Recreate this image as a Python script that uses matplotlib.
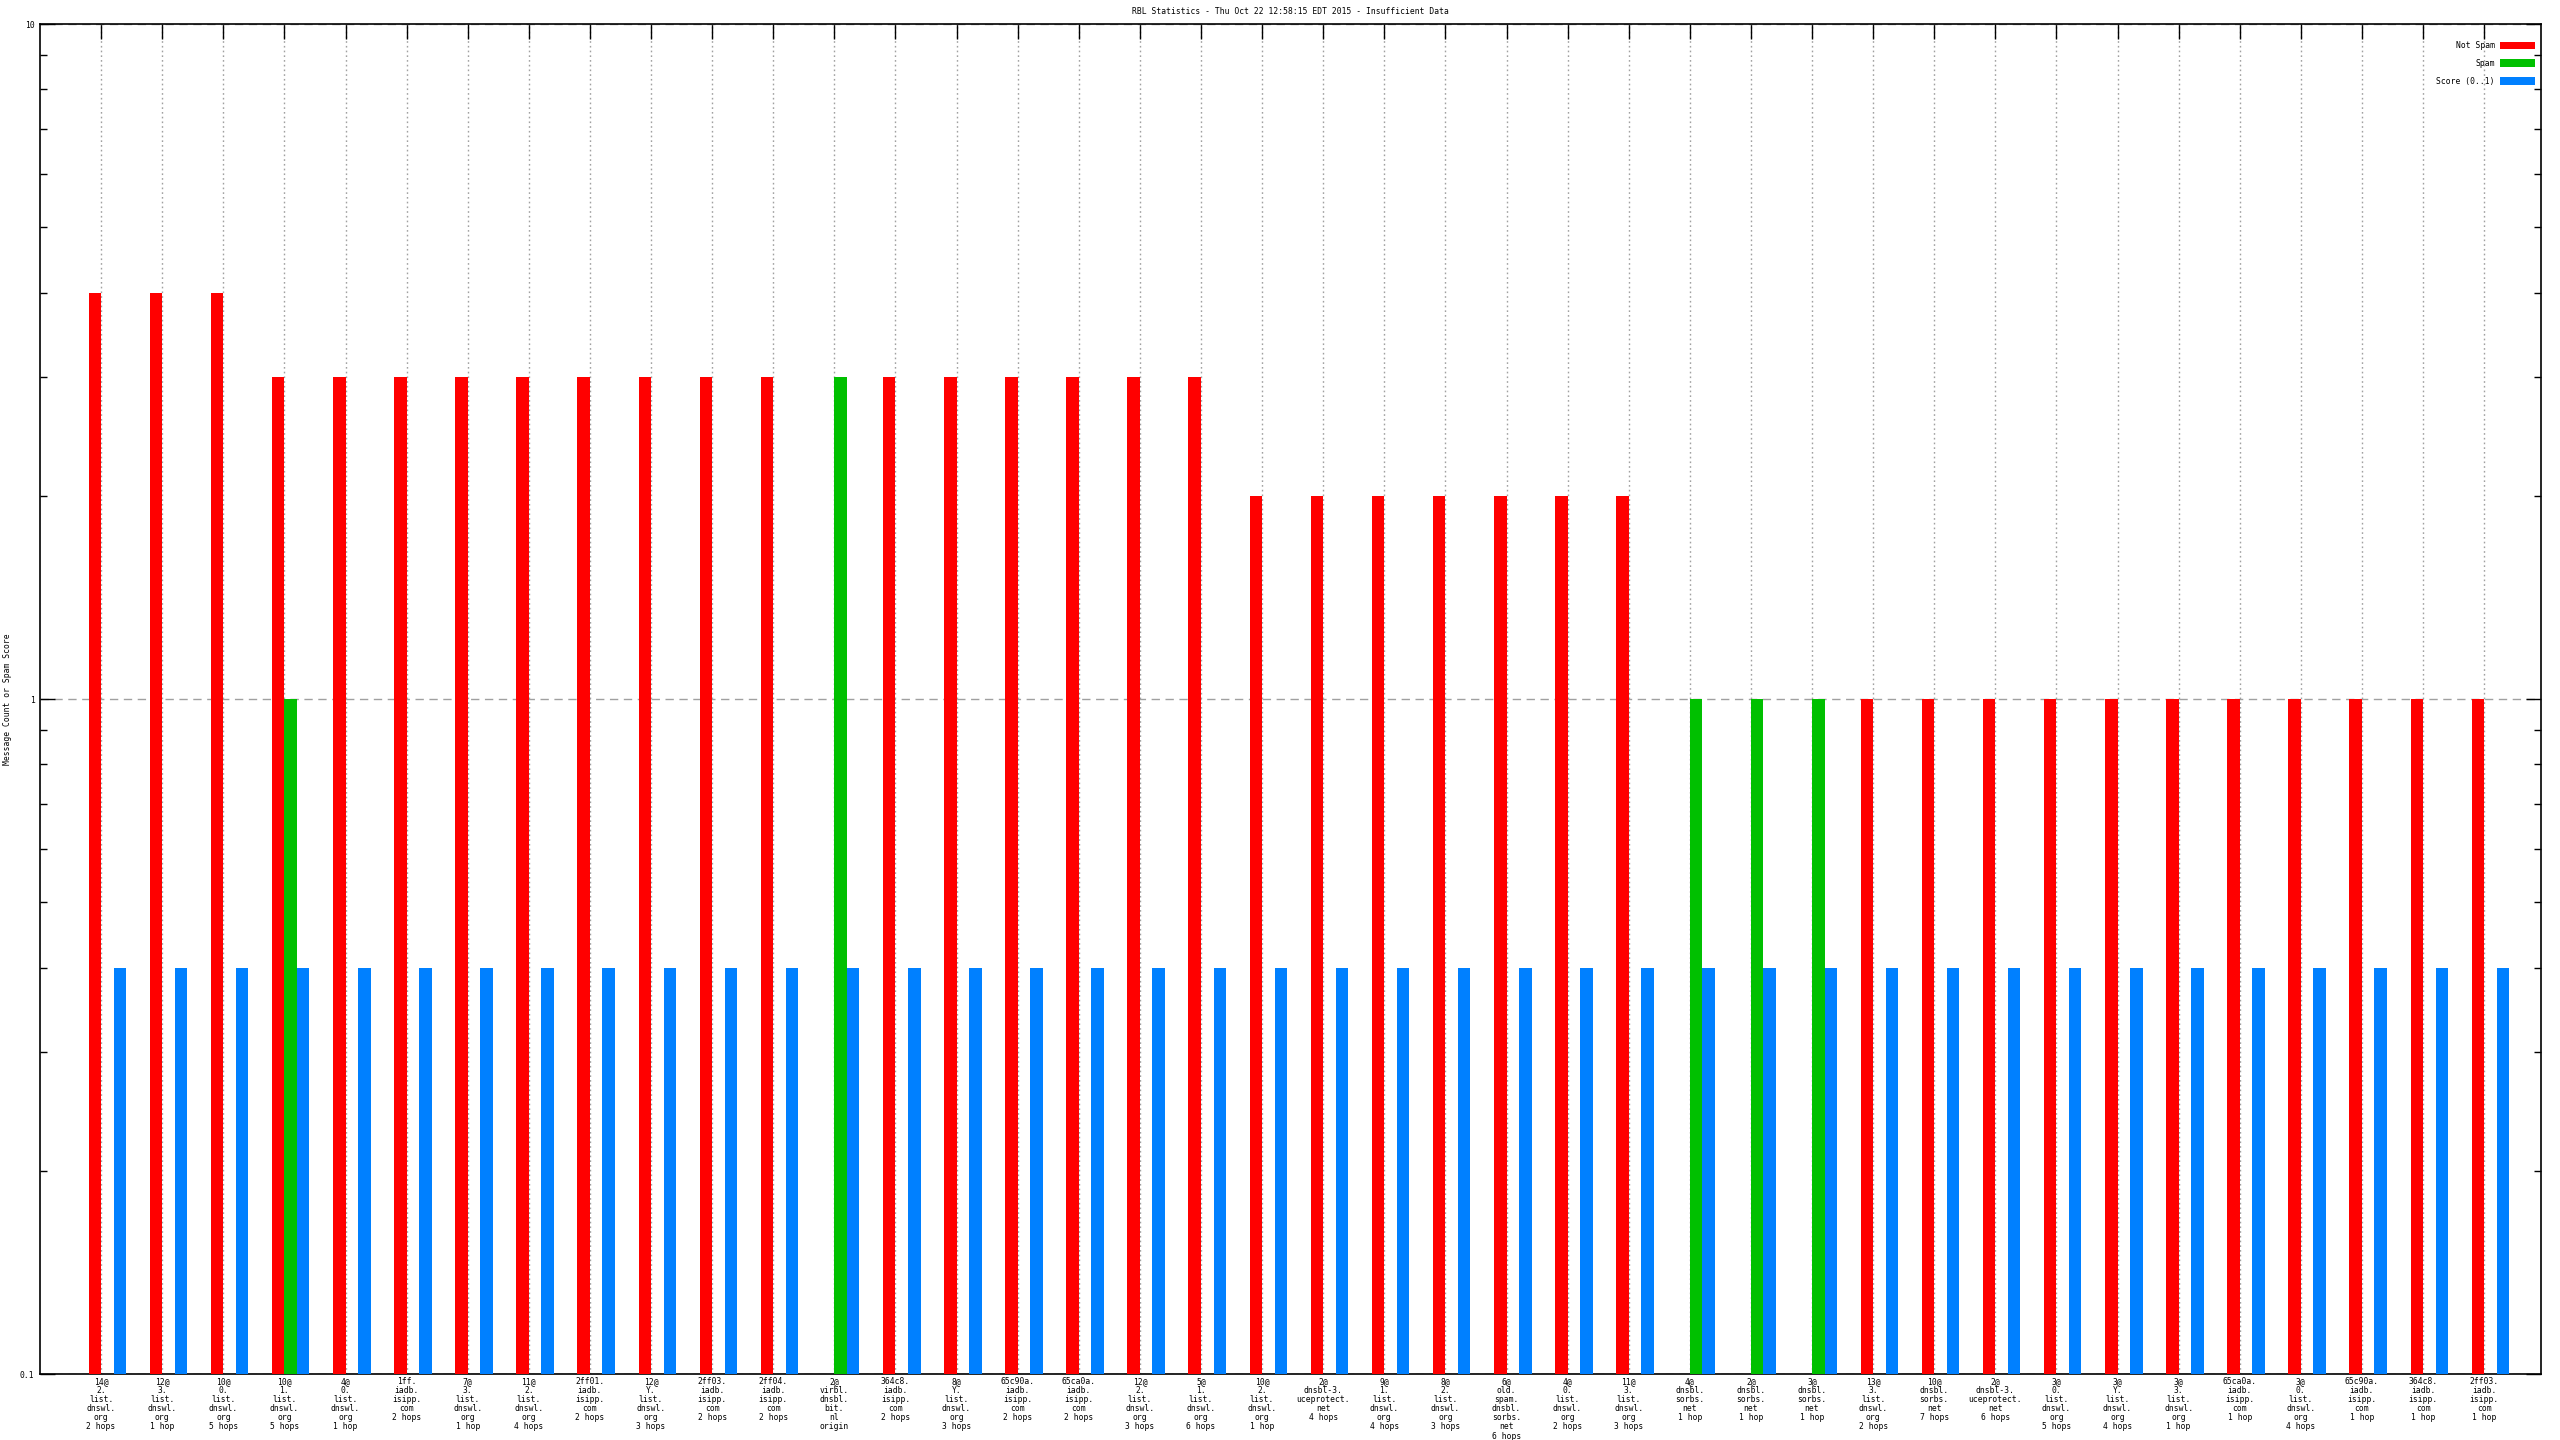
import numpy as np
import matplotlib
matplotlib.use("Agg")
import matplotlib.pyplot as plt
from matplotlib.ticker import LogLocator, NullFormatter, FixedLocator, FixedFormatter

categories = [
    "14@\n2.\nlist.\ndnswl.\norg\n2 hops",
    "12@\n3.\nlist.\ndnswl.\norg\n1 hop",
    "10@\n0.\nlist.\ndnswl.\norg\n5 hops",
    "10@\n1.\nlist.\ndnswl.\norg\n5 hops",
    "4@\n0.\nlist.\ndnswl.\norg\n1 hop",
    "1ff.\niadb.\nisipp.\ncom\n2 hops",
    "7@\n3.\nlist.\ndnswl.\norg\n1 hop",
    "11@\n2.\nlist.\ndnswl.\norg\n4 hops",
    "2ff01.\niadb.\nisipp.\ncom\n2 hops",
    "12@\nY.\nlist.\ndnswl.\norg\n3 hops",
    "2ff03.\niadb.\nisipp.\ncom\n2 hops",
    "2ff04.\niadb.\nisipp.\ncom\n2 hops",
    "2@\nvirbl.\ndnsbl.\nbit.\nnl\norigin",
    "364c8.\niadb.\nisipp.\ncom\n2 hops",
    "8@\nY.\nlist.\ndnswl.\norg\n3 hops",
    "65c90a.\niadb.\nisipp.\ncom\n2 hops",
    "65ca0a.\niadb.\nisipp.\ncom\n2 hops",
    "12@\n2.\nlist.\ndnswl.\norg\n3 hops",
    "5@\n1.\nlist.\ndnswl.\norg\n6 hops",
    "10@\n2.\nlist.\ndnswl.\norg\n1 hop",
    "2@\ndnsbl-3.\nuceprotect.\nnet\n4 hops",
    "9@\n1.\nlist.\ndnswl.\norg\n4 hops",
    "8@\n2.\nlist.\ndnswl.\norg\n3 hops",
    "6@\nold.\nspam.\ndnsbl.\nsorbs.\nnet\n6 hops",
    "4@\n0.\nlist.\ndnswl.\norg\n2 hops",
    "11@\n3.\nlist.\ndnswl.\norg\n3 hops",
    "4@\ndnsbl.\nsorbs.\nnet\n1 hop",
    "2@\ndnsbl.\nsorbs.\nnet\n1 hop",
    "3@\ndnsbl.\nsorbs.\nnet\n1 hop",
    "13@\n3.\nlist.\ndnswl.\norg\n2 hops",
    "10@\ndnsbl.\nsorbs.\nnet\n7 hops",
    "2@\ndnsbl-3.\nuceprotect.\nnet\n6 hops",
    "3@\n0.\nlist.\ndnswl.\norg\n5 hops",
    "3@\nY.\nlist.\ndnswl.\norg\n4 hops",
    "3@\n3.\nlist.\ndnswl.\norg\n1 hop",
    "65ca0a.\niadb.\nisipp.\ncom\n1 hop",
    "3@\n0.\nlist.\ndnswl.\norg\n4 hops",
    "65c90a.\niadb.\nisipp.\ncom\n1 hop",
    "364c8.\niadb.\nisipp.\ncom\n1 hop",
    "2ff03.\niadb.\nisipp.\ncom\n1 hop",
]

not_spam = [4, 4, 4, 3, 3, 3, 3, 3, 3, 3, 3, 3, 0, 3, 3, 3, 3, 3, 3, 2,
            2, 2, 2, 2, 2, 2, 0, 0, 0, 1, 1, 1, 1, 1, 1, 1, 1, 1, 1, 1]
spam = [0, 0, 0, 1, 0, 0, 0, 0, 0, 0, 0, 0, 3, 0, 0, 0, 0, 0, 0, 0,
        0, 0, 0, 0, 0, 0, 1, 1, 1, 0, 0, 0, 0, 0, 0, 0, 0, 0, 0, 0]
score = [0.4] * 40

y_ticks = [0.1, 1, 10]
y_ticklabels = ["0.1", "1", "10"]

title = "RBL Statistics - Thu Oct 22 12:58:15 EDT 2015 - Insufficient Data"
ylabel = "Message Count or Spam Score"
series_names = ["Not Spam", "Spam", "Score (0..1)"]
colors = ["#ff0000", "#00c000", "#0080ff"]

FONT = "DejaVu Sans Mono"
FS = 5.8

W, H = 2560, 1440
fig = plt.figure(figsize=(W / 100, H / 100), dpi=100)
left, right, top, bottom = 40, 2541, 24, 1374
ax = fig.add_axes([left / W, 1 - bottom / H, (right - left) / W, (bottom - top) / H])

x = np.arange(len(categories))
bw = 0.205

def masked(vals):
    v = np.array(vals, dtype=float)
    v[v <= 0] = np.nan
    return v

# gnuplot clustered layout: red ends at tick, green starts at tick, blue follows
ax.bar(x - bw, masked(not_spam), width=bw, align="edge", color=colors[0],
       label=series_names[0], zorder=3)
ax.bar(x, masked(spam), width=bw, align="edge", color=colors[1],
       label=series_names[1], zorder=3)
ax.bar(x + bw, masked(score), width=bw, align="edge", color=colors[2],
       label=series_names[2], zorder=3)

ax.set_yscale("log")
ax.set_ylim(0.1, 10)
ax.set_xlim(-1, 39.93)

ax.yaxis.set_major_locator(FixedLocator(y_ticks))
ax.yaxis.set_major_formatter(FixedFormatter(y_ticklabels))
ax.yaxis.set_minor_locator(LogLocator(base=10, subs=np.arange(2, 10)))
ax.yaxis.set_minor_formatter(NullFormatter())
ax.tick_params(axis="y", which="major", direction="in", length=10.5, width=1,
               left=True, right=True, labelsize=FS, pad=4)
ax.tick_params(axis="y", which="minor", direction="in", length=5, width=1,
               left=True, right=True)

ax.set_xticks(x)
ax.set_xticklabels(categories)
ax.tick_params(axis="x", direction="in", length=10.5, width=1, bottom=False, top=True,
               labelsize=FS, pad=2)
for lab in ax.get_xticklabels():
    lab.set_linespacing(1.02)
    lab.set_fontfamily(FONT)
for lab in ax.get_yticklabels():
    lab.set_fontfamily(FONT)

ax.grid(True, axis="x", color="#a0a0a0", linestyle=(0, (1.2, 2.2)), linewidth=1, zorder=0)
ax.grid(True, axis="y", which="major", color="#a0a0a0", linestyle=(0, (6, 4)), linewidth=1, zorder=0)

for s in ax.spines.values():
    s.set_linewidth(1.2)
    s.set_color("black")

fig.text((left + right) / 2 / W, 1 - 12 / H, title, ha="center", va="center",
         fontsize=FS, family=FONT)
ax.set_ylabel(ylabel, fontsize=FS, family=FONT)
ax.yaxis.set_label_coords((12 - left) / (right - left), 0.5)

leg = ax.legend(loc="upper right", bbox_to_anchor=(2535 / W, 1 - 41 / H),
                bbox_transform=fig.transFigure, frameon=False, markerfirst=False,
                prop={"family": FONT, "size": FS}, handlelength=4.4, handleheight=1.0,
                labelspacing=1.1, handletextpad=0.6, borderpad=0, borderaxespad=0)

fig.savefig("out.png", dpi=100)
